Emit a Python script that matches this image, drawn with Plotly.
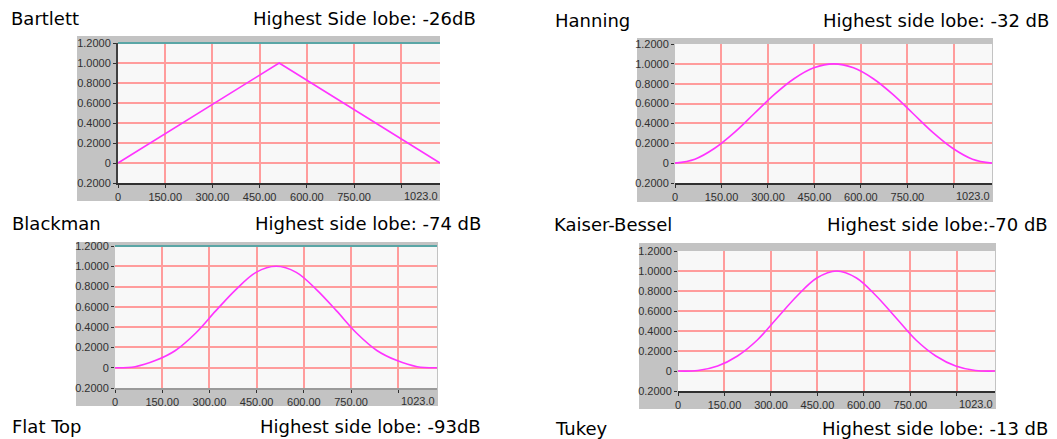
import plotly.graph_objects as go

# ---------------- data ----------------
bartlett_x = [0, 512, 1023]
bartlett_y = [0.0, 1.0, 0.0]

win_x = [0, 64, 128, 192, 256, 320, 384, 448, 512, 576, 640, 704, 768, 832, 896, 960, 1023]
hanning_y = [0.0, 0.04, 0.15, 0.31, 0.50, 0.69, 0.85, 0.96, 1.0, 0.96, 0.85, 0.69, 0.50, 0.31, 0.15, 0.04, 0.0]
blackman_y = [0.0, 0.01, 0.07, 0.17, 0.34, 0.56, 0.77, 0.94, 1.0, 0.94, 0.77, 0.56, 0.34, 0.17, 0.07, 0.01, 0.0]
kaiser_y = [0.0, 0.005, 0.05, 0.15, 0.31, 0.53, 0.75, 0.93, 1.0, 0.93, 0.75, 0.53, 0.31, 0.15, 0.05, 0.005, 0.0]

x_tickvals = [0, 150, 300, 450, 600, 750, 900]
x_ticktext = ["0", "150.00", "300.00", "450.00", "600.00", "750.00", ""]
x_end_label = "1023.0"
y_tickvals = [-0.2, 0.0, 0.2, 0.4, 0.6, 0.8, 1.0, 1.2]
y_ticktext = ["0.2000", "0", "0.2000", "0.4000", "0.6000", "0.8000", "1.0000", "1.2000"]

names = ["Bartlett", "Hanning", "Blackman", "Kaiser-Bessel"]
lobes = ["Highest Side lobe: -26dB", "Highest side lobe: -32 dB",
         "Highest side lobe: -74 dB", "Highest side lobe:-70 dB"]
extra_names = ["Flat Top", "Tukey"]
extra_lobes = ["Highest side lobe: -93dB", "Highest side lobe: -13 dB"]

# ---------------- layout geometry (pixels) ----------------
W, H = 1057, 439
def px(v):
    return v / W
def py(v):
    return 1 - v / H

# plot areas: (left, right, top, bottom) in pixels
areas = [(118, 440, 43, 183), (675, 992, 44, 183), (115, 437, 246, 388), (678, 995, 251, 391)]
frames = [(77, 440, 36, 201), (637, 993, 38, 202), (76, 438, 242, 406), (639, 996, 243, 409)]
left_line = [True, False, False, False]
bottom_line_color = ["#303030", "#303030", "#9a9a9a", "#303030"]
teal_top = [True, False, True, False]

MAG = "#ff33ff"
GRID = "#ff9c9c"
GRAY = "#c3c3c3"
FONT = "Liberation Sans"
TITLE_FONT = "DejaVu Sans"

fig = go.Figure()
series = [(bartlett_x, bartlett_y, "linear"), (win_x, hanning_y, "spline"),
          (win_x, blackman_y, "spline"), (win_x, kaiser_y, "spline")]

shapes = []
annotations = []
for i, (xs, ys, shape) in enumerate(series):
    k = "" if i == 0 else str(i + 1)
    fig.add_trace(go.Scatter(x=xs, y=ys, mode="lines", line=dict(color=MAG, width=1.6, shape=shape),
                             xaxis="x" + k, yaxis="y" + k, showlegend=False, hoverinfo="skip"))
    l, r, t, b = areas[i]
    fig.layout["xaxis" + k] = dict(
        domain=[px(l), px(r)], range=[0, 1023], anchor="y" + k, automargin=False,
        tickvals=x_tickvals, ticktext=x_ticktext, ticks="outside", ticklen=3, tickcolor="#303030",
        showgrid=True, gridcolor=GRID, gridwidth=2, zeroline=False,
        showline=True, linecolor=bottom_line_color[i], linewidth=1.5,
        tickfont=dict(family=FONT, size=11, color="#303030"), fixedrange=True)
    fig.layout["yaxis" + k] = dict(
        domain=[py(b), py(t)], range=[-0.2, 1.2], anchor="x" + k, automargin=False,
        tickvals=y_tickvals, ticktext=y_ticktext, ticks="outside", ticklen=3, tickcolor="#303030",
        showgrid=True, gridcolor=GRID, gridwidth=2, zeroline=False,
        showline=left_line[i], linecolor="#404040", linewidth=2,
        tickfont=dict(family=FONT, size=11, color="#303030"), fixedrange=True)
    # grey frame drawn as four strips around the plot area
    fl, fr, ft, fb = frames[i]
    strips = [(fl, l, ft, fb), (r, fr, ft, fb), (l, r, ft, t), (l, r, b, fb)]
    for (sx0, sx1, sy0, sy1) in strips:
        if sx1 - sx0 <= 0 or sy1 - sy0 <= 0:
            continue
        shapes.append(dict(type="rect", xref="paper", yref="paper", x0=px(sx0), x1=px(sx1),
                           y0=py(sy1), y1=py(sy0), fillcolor=GRAY, line=dict(width=0), layer="below"))
    if teal_top[i]:
        shapes.append(dict(type="line", xref="x" + k + " domain", yref="y" + k + " domain",
                           x0=0, x1=1, y0=1, y1=1, line=dict(color="#5aa6a6", width=2)))
    annotations.append(dict(text=x_end_label, xref="x" + k, yref="paper", x=1023, y=py(b + 5),
                            xanchor="right", yanchor="top", showarrow=False,
                            font=dict(family=FONT, size=11, color="#303030")))

# titles
title_pos = [(9, 478, 19), (553, 1051, 21), (10, 483, 223), (552, 1050, 224)]
for i in range(4):
    lx, rx, yy = title_pos[i]
    annotations.append(dict(text=names[i], xref="paper", yref="paper", x=px(lx), y=py(yy),
                            xanchor="left", yanchor="middle", showarrow=False,
                            font=dict(family=TITLE_FONT, size=18, color="#000000")))
    annotations.append(dict(text=lobes[i], xref="paper", yref="paper", x=px(rx), y=py(yy),
                            xanchor="right", yanchor="middle", showarrow=False,
                            font=dict(family=TITLE_FONT, size=18, color="#000000")))
extra_pos = [(10, 483, 426), (553, 1050, 428)]
for i in range(2):
    lx, rx, yy = extra_pos[i]
    annotations.append(dict(text=extra_names[i], xref="paper", yref="paper", x=px(lx), y=py(yy),
                            xanchor="left", yanchor="middle", showarrow=False,
                            font=dict(family=TITLE_FONT, size=18, color="#000000")))
    annotations.append(dict(text=extra_lobes[i], xref="paper", yref="paper", x=px(rx), y=py(yy),
                            xanchor="right", yanchor="middle", showarrow=False,
                            font=dict(family=TITLE_FONT, size=18, color="#000000")))

fig.update_layout(width=W, height=H, margin=dict(l=0, r=0, t=0, b=0, pad=0),
                  paper_bgcolor="#ffffff", plot_bgcolor="#f8f8f8",
                  shapes=shapes, annotations=annotations, showlegend=False)

fig.write_html("out.html", config={"displayModeBar": False},
               post_script="document.body.style.margin='0';document.body.style.overflow='hidden';")
